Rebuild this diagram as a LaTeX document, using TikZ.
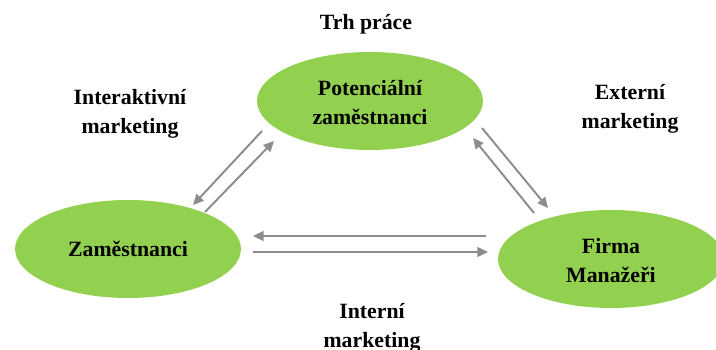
\documentclass[tikz,border=0pt]{standalone}
\usepackage{fontspec}
\setmainfont{Liberation Serif}
\usetikzlibrary{shapes.geometric,arrows.meta,calc}
\definecolor{leafgreen}{HTML}{92D050}
\definecolor{arrowgray}{HTML}{8C8C8C}
\tikzset{
 market/.style={ellipse, fill=leafgreen, inner sep=0pt,
   minimum width=4.52cm, minimum height=1.96cm},
 caption/.style={font=\fontsize{12.4}{16.5}\selectfont\bfseries, align=center},
 flow/.style={draw=arrowgray, line width=1.1pt,
   -{Triangle[length=6pt,width=5.5pt]}}
}
\newcommand{\flowArrow}[2]{
    \draw[flow] (#1) -- (#2);
}

\begin{document}
\begin{tikzpicture}[x=0.02cm, y=-0.02cm]
    \clip (0,0) rectangle (716,350);
    \fill[white] (0,0) rectangle (716,350);

    % the three markets
    \node[market] (pot) at (370,101) {};
    \node[market] (emp) at (128,249) {};
    \node[market] (firm) at (611,259) {};
    \node[caption] (potText) at ($(pot) + (0,2)$) {Potenciální\\zaměstnanci};
    \node[caption] (empText) at (emp) {Zaměstnanci};
    \node[caption] (firmText) at ($(firm) + (0,2)$) {Firma\\Manažeři};

    % labels round the triangle
    \node[caption] (trh) at (366,24) {Trh práce};
    \node[caption] (inter) at (130,114) {Interaktivní\\marketing};
    \node[caption] (ext) at (630,109) {Externí\\marketing};
    \node[caption] (intern) at (372,328) {Interní\\marketing};

    % arrow ends
    \coordinate (ia_s) at ($(pot) + (-108, 30)$);
    \coordinate (ia_e) at ($(emp) + (65, -44)$);
    \coordinate (ib_s) at ($(emp) + (77, -37)$);
    \coordinate (ib_e) at ($(pot) + (-96, 40)$);
    \coordinate (ea_s) at ($(pot) + (112, 27)$);
    \coordinate (ea_e) at ($(firm) + (-63, -51)$);
    \coordinate (eb_s) at ($(firm) + (-77, -46)$);
    \coordinate (eb_e) at ($(pot) + (103, 37)$);
    \coordinate (na_s) at ($(firm) + (-125, -23)$);
    \coordinate (na_e) at ($(emp) + (125, -13)$);
    \coordinate (nb_s) at ($(emp) + (125, 3)$);
    \coordinate (nb_e) at ($(firm) + (-123, -7)$);

    \flowArrow{ia_s}{ia_e}
    \flowArrow{ib_s}{ib_e}
    \flowArrow{ea_s}{ea_e}
    \flowArrow{eb_s}{eb_e}
    \flowArrow{na_s}{na_e}
    \flowArrow{nb_s}{nb_e}
\end{tikzpicture}
\end{document}
